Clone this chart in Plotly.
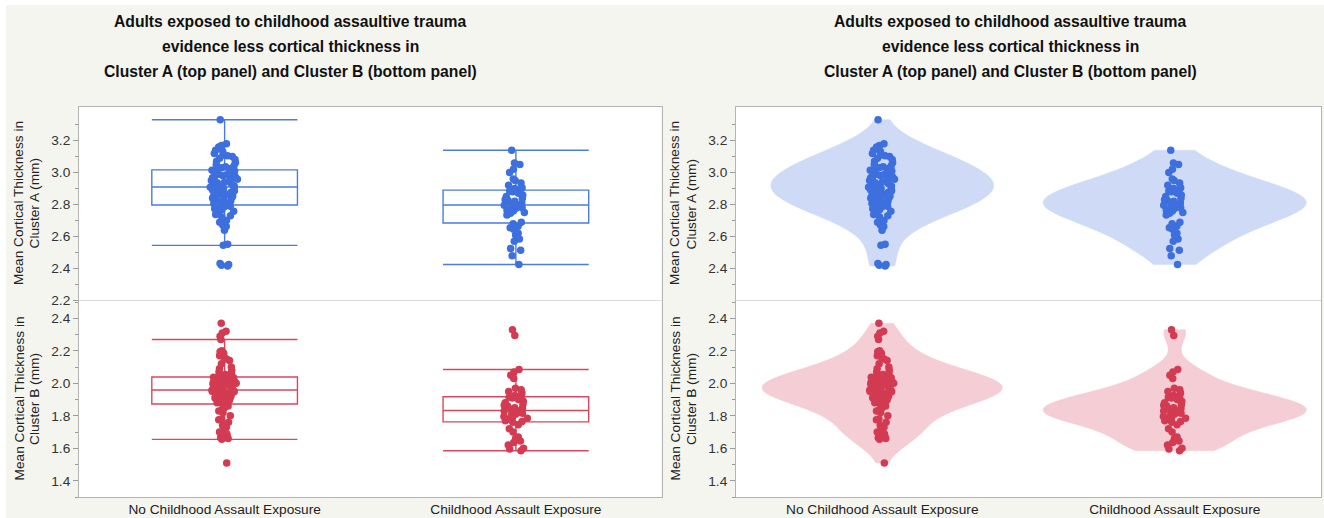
import plotly.graph_objects as go

# ---------------- data ----------------
CATEGORIES = ["No Childhood Assault Exposure", "Childhood Assault Exposure"]
TITLE_LINES = ["Adults exposed to childhood assaultive trauma",
               "evidence less cortical thickness in",
               "Cluster A (top panel) and Cluster B (bottom panel)"]
YTITLE_A = ["Mean Cortical Thickness in", "Cluster A (mm)"]
YTITLE_B = ["Mean Cortical Thickness in", "Cluster B (mm)"]

# Cluster A, no childhood assault exposure
A_NO = [2.415, 2.42, 2.425, 2.432,
        2.545, 2.552,
        2.64, 2.662, 2.67, 2.69, 2.70, 2.722, 2.73, 2.738, 2.75, 2.758,
        2.768, 2.774, 2.78, 2.786, 2.79, 2.795, 2.80,
        2.806, 2.81, 2.818, 2.822, 2.83, 2.836, 2.84, 2.846, 2.85, 2.855, 2.862, 2.866,
        2.872, 2.876, 2.88, 2.886, 2.89, 2.895, 2.90, 2.905, 2.908, 2.912,
        2.916, 2.92, 2.926, 2.93, 2.936, 2.94, 2.946, 2.95, 2.958, 2.962, 2.968, 2.972,
        2.976, 2.98, 2.986, 2.99, 2.996, 3.00, 3.004, 3.01, 3.014, 3.02,
        3.026, 3.03, 3.036, 3.042, 3.05, 3.062, 3.07, 3.082, 3.09, 3.10, 3.105, 3.11,
        3.12, 3.13, 3.14, 3.15, 3.155, 3.16, 3.17, 3.18, 3.33]
# Cluster A, childhood assault exposure
A_EXP = [2.425, 2.48, 2.515, 2.525, 2.57, 2.585, 2.61, 2.62, 2.645, 2.655, 2.665, 2.68,
         2.69, 2.735, 2.745, 2.75, 2.76, 2.765, 2.77, 2.775, 2.78, 2.785, 2.79, 2.795,
         2.80, 2.805, 2.81, 2.82, 2.825, 2.83, 2.84, 2.85, 2.86, 2.87, 2.88, 2.885,
         2.895, 2.90, 2.905, 2.92, 2.935, 2.95, 2.96, 3.00, 3.02, 3.05, 3.06, 3.14]
# Cluster B, no childhood assault exposure
B_NO = [1.51, 1.655, 1.66, 1.665, 1.67, 1.675, 1.68, 1.69, 1.695, 1.70, 1.73, 1.74,
        1.76, 1.775, 1.78, 1.80, 1.82, 1.83, 1.84, 1.85, 1.86, 1.87,
        1.875, 1.88, 1.885, 1.89, 1.895, 1.90, 1.905, 1.91, 1.915, 1.92, 1.925,
        1.93, 1.935, 1.94, 1.942, 1.945, 1.948, 1.95, 1.952, 1.954, 1.956, 1.958,
        1.96, 1.965, 1.97, 1.975, 1.98, 1.985, 1.99, 1.992, 1.995, 2.00, 2.003,
        2.005, 2.01, 2.012, 2.015, 2.02, 2.022, 2.025, 2.03, 2.032, 2.035, 2.037,
        2.04, 2.045, 2.05, 2.055, 2.06, 2.07, 2.08, 2.09, 2.10, 2.12, 2.14, 2.15,
        2.16, 2.17, 2.185, 2.195, 2.20, 2.27, 2.29, 2.31, 2.32, 2.37]
# Cluster B, childhood assault exposure
B_EXP = [1.585, 1.595, 1.60, 1.62, 1.635, 1.645, 1.66, 1.67, 1.70, 1.72, 1.745, 1.76,
         1.765, 1.77, 1.78, 1.785, 1.79, 1.795, 1.80, 1.81, 1.815, 1.82, 1.825, 1.83,
         1.835, 1.84, 1.845, 1.85, 1.86, 1.865, 1.87, 1.88, 1.89, 1.90, 1.91, 1.915,
         1.92, 1.925, 1.94, 1.95, 1.96, 1.97, 2.03, 2.05, 2.07, 2.085, 2.295, 2.33]

TICKS_A = [2.2, 2.4, 2.6, 2.8, 3.0, 3.2]
MINOR_A = [2.3, 2.5, 2.7, 2.9, 3.1, 3.3]
TICKS_B = [1.4, 1.6, 1.8, 2.0, 2.2, 2.4]
MINOR_B = [1.3, 1.5, 1.7, 1.9, 2.1, 2.3, 2.5]

# ---------------- styling ----------------
W, H = 1324, 518
BLUE = "#3d6fde"
BLUE_LINE = "#4a7be2"
BLUE_FILL = "#cfdbf6"
RED = "#d23b52"
RED_LINE = "#d9475d"
RED_FILL = "#f5cdd4"
BG = "#f5f5f0"
FRAME = "#b4b4b4"
TICKC = "#9a9a9a"
TXT = "#222222"
FONT = "Liberation Sans, Arial, sans-serif"
FS = 13.7


def fx(p):
    return p / W


def fy(p):
    return 1 - p / H


LEFT = (79, 661.5)
RIGHT = (736, 1321)
TOP = (107, 300.5)
BOT = (300.5, 497)

fig = go.Figure()

# ---- left panel: box plots with jittered points ----
for ax, vals, cat, col, lcol in [
    ("", A_NO, CATEGORIES[0], BLUE, BLUE_LINE),
    ("", A_EXP, CATEGORIES[1], BLUE, BLUE_LINE),
    ("2", B_NO, CATEGORIES[0], RED, RED_LINE),
    ("2", B_EXP, CATEGORIES[1], RED, RED_LINE),
]:
    fig.add_trace(go.Box(
        x=[cat] * len(vals), y=vals,
        xaxis="x" + ax, yaxis="y" + ax,
        width=0.5, whiskerwidth=1, boxpoints="all", jitter=0.2, pointpos=0,
        fillcolor="rgba(0,0,0,0)", line=dict(color=lcol, width=1.4),
        marker=dict(color=col, size=7.5, line=dict(width=0)),
        quartilemethod="linear", hoverinfo="y",
    ))

# ---- right panel: violins with jittered points ----
for ax, vals, cat, col, fcol, wd, jit, bw in [
    ("3", A_NO, CATEGORIES[0], BLUE, BLUE_FILL, 0.76, 0.125, 0.1),
    ("3", A_EXP, CATEGORIES[1], BLUE, BLUE_FILL, 0.9, 0.105, 0.1),
    ("4", B_NO, CATEGORIES[0], RED, RED_FILL, 0.82, 0.12, 0.085),
    ("4", B_EXP, CATEGORIES[1], RED, RED_FILL, 0.9, 0.105, 0.07),
]:
    fig.add_trace(go.Violin(
        x=[cat] * len(vals), y=vals,
        xaxis="x" + ax, yaxis="y" + ax,
        width=wd, scalemode="width", spanmode="hard", bandwidth=bw,
        points="all", jitter=jit, pointpos=0,
        fillcolor=fcol, line=dict(color=fcol, width=0.5),
        marker=dict(color=col, size=7.5, line=dict(width=0)),
        hoverinfo="y",
    ))

common_x = dict(type="category", categoryorder="array", categoryarray=CATEGORIES,
                range=[-0.5, 1.5], showgrid=False, zeroline=False, ticks="",
                showline=True, linecolor=FRAME, linewidth=1, automargin=False,
                tickfont=dict(family=FONT, size=FS, color=TXT))
common_y = dict(showgrid=False, zeroline=False, showline=True, mirror=True,
                linecolor=FRAME, linewidth=1, ticks="outside", ticklen=5,
                tickcolor=TICKC, tickformat=".1f", automargin=False,
                tickfont=dict(family=FONT, size=FS, color="#333333"))

fig.update_layout(
    width=W, height=H, autosize=False,
    margin=dict(l=0, r=0, t=0, b=0, pad=0, autoexpand=False),
    paper_bgcolor=BG, plot_bgcolor="white",
    showlegend=False,
    xaxis=dict(common_x, domain=[fx(LEFT[0]), fx(LEFT[1])], anchor="y",
               side="top", showticklabels=False),
    xaxis2=dict(common_x, domain=[fx(LEFT[0]), fx(LEFT[1])], anchor="y2"),
    xaxis3=dict(common_x, domain=[fx(RIGHT[0]), fx(RIGHT[1])], anchor="y3",
                side="top", showticklabels=False),
    xaxis4=dict(common_x, domain=[fx(RIGHT[0]), fx(RIGHT[1])], anchor="y4"),
    yaxis=dict(common_y, domain=[fy(TOP[1]), fy(TOP[0])], anchor="x",
               range=[2.2, 3.41], tickvals=TICKS_A,
               minor=dict(tickvals=MINOR_A, ticks="outside", ticklen=3, tickcolor=TICKC)),
    yaxis2=dict(common_y, domain=[fy(BOT[1]), fy(BOT[0])], anchor="x2",
                range=[1.30, 2.51], tickvals=TICKS_B,
                minor=dict(tickvals=MINOR_B, ticks="outside", ticklen=3, tickcolor=TICKC)),
    yaxis3=dict(common_y, domain=[fy(TOP[1]), fy(TOP[0])], anchor="x3",
                range=[2.2, 3.41], tickvals=TICKS_A[1:],
                minor=dict(tickvals=MINOR_A, ticks="outside", ticklen=3, tickcolor=TICKC)),
    yaxis4=dict(common_y, domain=[fy(BOT[1]), fy(BOT[0])], anchor="x4",
                range=[1.30, 2.51], tickvals=TICKS_B,
                minor=dict(tickvals=MINOR_B, ticks="outside", ticklen=3, tickcolor=TICKC)),
)

shapes = [
    # white strips at the top and left edge of the image
    dict(type="rect", xref="paper", yref="paper", x0=0, x1=1, y0=fy(5), y1=1,
         fillcolor="white", line=dict(width=0), layer="below"),
    dict(type="rect", xref="paper", yref="paper", x0=0, x1=fx(6), y0=0, y1=1,
         fillcolor="white", line=dict(width=0), layer="below"),
]
for lo, hi in (LEFT, RIGHT):
    shapes.append(dict(type="line", xref="paper", yref="paper",
                       x0=fx(lo), x1=fx(hi), y0=fy(TOP[1]), y1=fy(TOP[1]),
                       line=dict(color="#dcdcdc", width=1.2), layer="above"))
fig.update_layout(shapes=shapes)

annotations = []
# panel titles, one annotation per line
for cx in (290, 1010):
    for line, cy in zip(TITLE_LINES, (21.7, 46.7, 71.7)):
        annotations.append(dict(
            xref="paper", yref="paper", x=fx(cx), y=fy(cy), xanchor="center", yanchor="middle",
            text=line, showarrow=False,
            font=dict(family=FONT, size=15.7, color="#111111", weight="bold")))
# y-axis titles
for xs in ((18.5, 34), (674.5, 691)):
    for cy, lines in ((203.5, YTITLE_A), (399, YTITLE_B)):
        for cx, line in zip(xs, lines):
            annotations.append(dict(
                xref="paper", yref="paper", x=fx(cx), y=fy(cy), xanchor="center", yanchor="middle",
                text=line, showarrow=False, textangle=-90,
                font=dict(family=FONT, size=FS, color=TXT)))
fig.update_layout(annotations=annotations)

fig.write_html("out.html", config={"displayModeBar": False},
               post_script="document.body.style.margin='0';")
